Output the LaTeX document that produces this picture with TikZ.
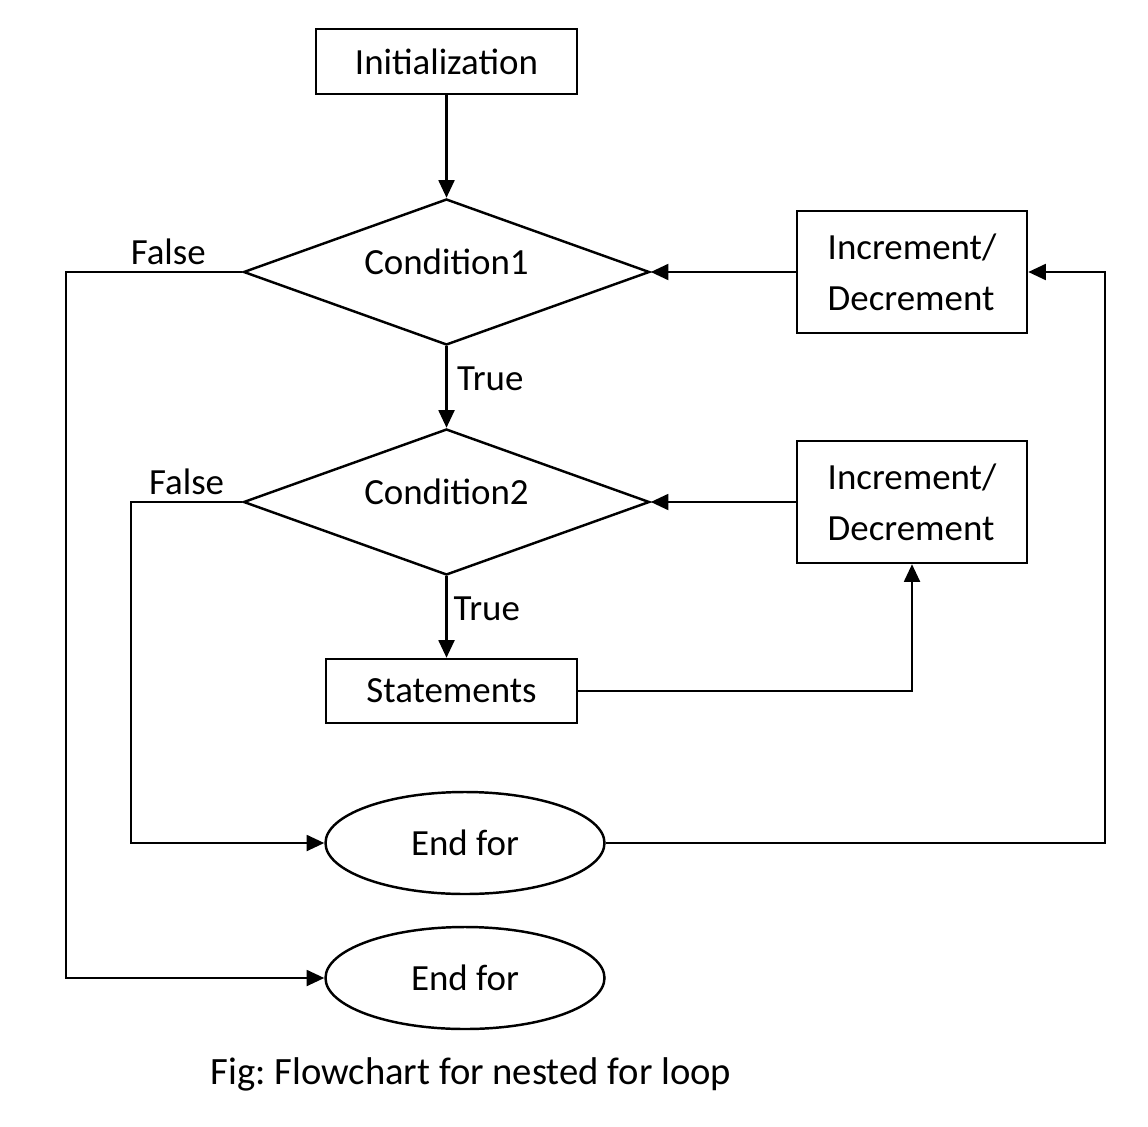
\documentclass[tikz,border=0pt]{standalone}
\usepackage{fontspec}
\setmainfont{Carlito}
\usetikzlibrary{shapes.geometric,arrows.meta}

\begin{document}
\begin{tikzpicture}[
  font=\fontsize{21}{29}\selectfont,
  line width=1.4pt,
  >={Triangle[length=10pt,width=9pt]},
  box/.style={draw, rectangle, inner sep=0pt},
  cond/.style={draw, diamond, aspect=2.8, inner sep=0pt,
    minimum width=8.12cm, minimum height=2.92cm},
  incdec/.style={box, align=left, minimum width=4.6cm, minimum height=2.44cm},
  endfor/.style={draw, ellipse, inner sep=0pt,
    minimum width=5.58cm, minimum height=2.04cm}
]
  \useasboundingbox (0, 0) rectangle (22.96, -22.52);
  \node[box, minimum width=5.22cm, minimum height=1.3cm] (init) at (8.93, -1.23) {Initialization};
  \node[cond, label={[yshift=2mm]center:Condition1}] (cond1) at (8.93, -5.44) {};
  \node[cond, label={[yshift=2mm]center:Condition2}] (cond2) at (8.93, -10.04) {};
  \node[incdec] (inc1) at (18.24, -5.44) {Increment/\\Decrement};
  \node[incdec] (inc2) at (18.24, -10.04) {Increment/\\Decrement};
  \node[box, minimum width=5.02cm, minimum height=1.28cm] (stm) at (9.03, -13.82) {Statements};
  \node[endfor] (end1) at (9.3, -16.86) {End for};
  \node[endfor] (end2) at (9.3, -19.56) {End for};
  \node[font=\fontsize{22}{26}\selectfont] (cap) at (9.42, -21.48) {\frenchspacing Fig: Flowchart for nested for loop};
  \coordinate (f1) at (1.32, -5.44);
  \coordinate (f2) at (2.62, -10.04);
  \coordinate (r1) at (22.1, -16.86);
  \draw[->] (init) -- (cond1);
  \draw[->] (cond1) -- node[pos=0.4, right, xshift=2pt] {True} (cond2);
  \draw[->] (cond2) -- node[pos=0.4, right] {True} (cond2 |- stm.north);
  \draw[->] (inc1) -- (cond1);
  \draw[->] (inc2) -- (cond2);
  \draw[->] (stm.east) -| (inc2.south);
  \draw[->] (cond1.west) -- node[pos=0.42, above] {False} (f1) |- (end2.west);
  \draw[->] (cond2.west) -- node[midway, above] {False} (f2) |- (end1.west);
  \draw[->] (end1.east) -- (r1) |- (inc1.east);
\end{tikzpicture}
\end{document}
